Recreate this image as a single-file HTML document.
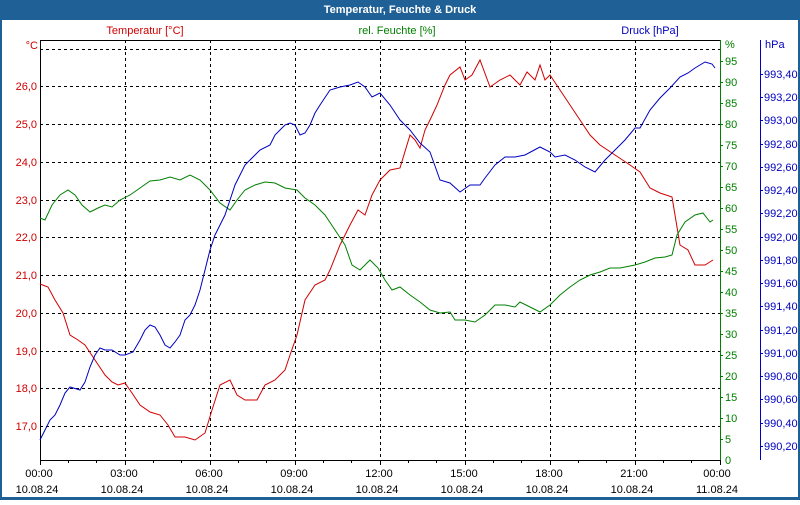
<!DOCTYPE html>
<html><head><meta charset="utf-8"><style>
body{margin:0;width:800px;height:500px;overflow:hidden;background:#fff;font-family:"Liberation Sans",sans-serif}
</style></head><body>
<svg width="800" height="500" xmlns="http://www.w3.org/2000/svg" font-family="Liberation Sans, sans-serif" font-size="11">
<rect x="0" y="0" width="800" height="500" fill="#1f6096"/>
<rect x="2" y="20" width="796" height="477" fill="#fff"/>
<text x="400" y="13" fill="#fff" font-weight="bold" text-anchor="middle">Temperatur, Feuchte &amp; Druck</text>
<text x="145" y="34" fill="#d00000" text-anchor="middle">Temperatur [°C]</text>
<text x="397" y="34" fill="#008000" text-anchor="middle">rel. Feuchte [%]</text>
<text x="650" y="34" fill="#0000c0" text-anchor="middle">Druck [hPa]</text>
<g stroke="#000" stroke-dasharray="3,3" stroke-width="1">
<path d="M40 49.5H720M40 86.5H720M40 124.5H720M40 162.5H720M40 200.5H720M40 237.5H720M40 275.5H720M40 313.5H720M40 351.5H720M40 388.5H720M40 426.5H720"/>
<path d="M125.5 40V460M210.5 40V460M295.5 40V460M380.5 40V460M465.5 40V460M550.5 40V460M635.5 40V460"/>
</g>
<path d="M40.5 40V460.5H720M40 40.5H720" stroke="#000" fill="none"/>
<path d="M720.5 40V460.5" stroke="#008000"/>
<path d="M760.5 40V460" stroke="#0000c0"/>
<g stroke="#000"><path d="M40.5 460v5M68.5 460v3M96.5 460v3M125.5 460v5M153.5 460v3M181.5 460v3M210.5 460v5M238.5 460v3M266.5 460v3M295.5 460v5M323.5 460v3M351.5 460v3M380.5 460v5M408.5 460v3M436.5 460v3M465.5 460v5M493.5 460v3M521.5 460v3M550.5 460v5M578.5 460v3M606.5 460v3M635.5 460v5M663.5 460v3M691.5 460v3M720.5 460v5"/></g>
<g fill="#d00000" text-anchor="end">
<text x="38" y="49">°C</text><text x="37" y="90">26,0</text><text x="37" y="128">25,0</text><text x="37" y="166">24,0</text><text x="37" y="204">23,0</text><text x="37" y="241">22,0</text><text x="37" y="279">21,0</text><text x="37" y="317">20,0</text><text x="37" y="355">19,0</text><text x="37" y="392">18,0</text><text x="37" y="430">17,0</text>
</g>
<g fill="#008000"><g stroke="#008000"><path d="M720 61.5h3M720 82.5h3M720 103.5h3M720 124.5h3M720 145.5h3M720 166.5h3M720 187.5h3M720 208.5h3M720 229.5h3M720 250.5h3M720 271.5h3M720 292.5h3M720 313.5h3M720 334.5h3M720 355.5h3M720 376.5h3M720 397.5h3M720 418.5h3M720 439.5h3"/></g>
<text x="725" y="48">%</text><text x="725" y="65">95</text><text x="725" y="86">90</text><text x="725" y="107">85</text><text x="725" y="128">80</text><text x="725" y="149">75</text><text x="725" y="170">70</text><text x="725" y="191">65</text><text x="725" y="212">60</text><text x="725" y="233">55</text><text x="725" y="254">50</text><text x="725" y="275">45</text><text x="725" y="296">40</text><text x="725" y="317">35</text><text x="725" y="338">30</text><text x="725" y="359">25</text><text x="725" y="380">20</text><text x="725" y="401">15</text><text x="725" y="422">10</text><text x="725" y="443">5</text><text x="725" y="464">0</text></g>
<g fill="#0000c0"><g stroke="#0000c0"><path d="M760 74.5h3M760 97.5h3M760 120.5h3M760 144.5h3M760 167.5h3M760 190.5h3M760 213.5h3M760 237.5h3M760 260.5h3M760 283.5h3M760 306.5h3M760 330.5h3M760 353.5h3M760 376.5h3M760 399.5h3M760 423.5h3M760 446.5h3"/></g>
<text x="765" y="48">hPa</text><text x="764" y="78">993,40</text><text x="764" y="101">993,20</text><text x="764" y="124">993,00</text><text x="764" y="148">992,80</text><text x="764" y="171">992,60</text><text x="764" y="194">992,40</text><text x="764" y="217">992,20</text><text x="764" y="241">992,00</text><text x="764" y="264">991,80</text><text x="764" y="287">991,60</text><text x="764" y="310">991,40</text><text x="764" y="334">991,20</text><text x="764" y="357">991,00</text><text x="764" y="380">990,80</text><text x="764" y="403">990,60</text><text x="764" y="427">990,40</text><text x="764" y="450">990,20</text></g>
<g fill="#000" text-anchor="middle">
<text x="39" y="477">00:00</text><text x="124" y="477">03:00</text><text x="209" y="477">06:00</text><text x="294" y="477">09:00</text><text x="379" y="477">12:00</text><text x="464" y="477">15:00</text><text x="549" y="477">18:00</text><text x="634" y="477">21:00</text><text x="717" y="477">00:00</text>
<text x="37" y="493">10.08.24</text><text x="122" y="493">10.08.24</text><text x="207" y="493">10.08.24</text><text x="292" y="493">10.08.24</text><text x="377" y="493">10.08.24</text><text x="462" y="493">10.08.24</text><text x="547" y="493">10.08.24</text><text x="632" y="493">10.08.24</text><text x="717" y="493">11.08.24</text></g>
<g fill="none" stroke-width="1">
<polyline stroke="#d00000" points="40,284 48,287 55,300 63,313 70,335 78,340 85,345 95,360 105,375 112,382 118,385 125,383 132,393 140,405 150,412 160,415 168,425 175,437 185,437 195,440 205,433 212,410 220,385 230,380 237,395 245,400 257,400 265,385 275,380 285,370 290,355 297,335 305,300 315,285 325,280 330,270 340,245 350,225 358,210 365,215 372,195 380,180 390,170 400,168 410,135 415,140 420,148 425,130 430,120 437,105 445,85 450,75 460,67 465,80 472,75 480,60 490,87 500,80 510,75 520,85 527,72 535,80 540,65 545,80 550,75 560,90 570,105 580,120 590,135 600,145 615,155 630,165 640,172 650,188 660,193 672,197 680,245 688,250 695,265 705,265 713,260"/>
<polyline stroke="#008000" points="40,218 45,220 52,205 60,195 68,190 75,195 82,205 90,212 98,208 105,205 112,207 120,200 130,195 140,188 150,181 160,180 170,177 180,180 190,175 200,180 210,190 220,203 230,210 237,200 245,190 255,185 265,182 275,183 285,188 297,190 305,198 315,205 325,215 335,230 345,245 352,265 360,270 370,260 378,268 385,280 392,290 400,287 410,295 420,302 430,310 440,313 450,312 455,320 465,320 475,322 485,315 495,305 505,305 515,307 520,302 530,307 540,312 550,305 560,295 570,287 580,280 590,275 600,272 610,268 620,268 635,265 645,262 655,258 665,257 672,255 677,235 685,222 695,215 703,213 710,222 713,220"/>
<polyline stroke="#0000c0" points="40,440 45,430 50,420 55,415 60,405 65,393 70,387 80,390 85,382 90,367 95,355 100,348 105,350 112,350 120,355 125,355 133,352 140,340 145,330 150,325 155,327 160,335 165,345 170,348 175,342 180,335 185,320 190,315 195,305 200,290 205,270 210,250 215,235 220,225 225,215 230,200 235,185 240,175 245,165 250,160 255,155 260,150 270,145 275,135 285,125 290,123 295,125 300,135 305,133 310,125 315,113 320,105 330,90 340,87 350,85 358,82 365,87 372,97 380,93 390,105 400,120 410,130 420,143 430,152 440,180 450,183 460,192 470,185 480,185 485,178 495,165 505,157 515,157 525,155 540,147 550,152 555,157 565,155 575,160 585,167 595,172 605,160 615,150 625,140 635,128 640,128 650,110 660,98 670,88 680,77 688,73 695,68 705,62 712,64 715,68"/>
</g>
</svg>
</body></html>
